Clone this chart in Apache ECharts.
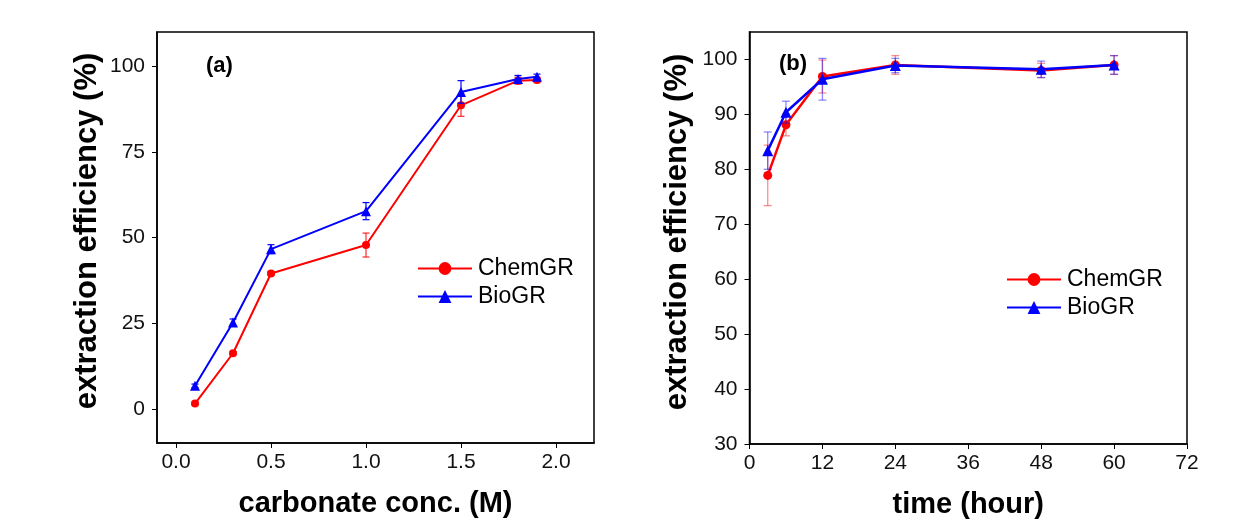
<!DOCTYPE html>
<html>
<head>
<meta charset="utf-8">
<script src="https://cdn.jsdelivr.net/npm/echarts@6/dist/echarts.min.js"></script>
<style>
  html, body { margin: 0; padding: 0; background: #fff; }
  #chart { width: 1238px; height: 529px; }
</style>
</head>
<body>
<div id="chart"></div>
<script>
// (a) extraction efficiency vs carbonate concentration
const concM = [0.1, 0.3, 0.5, 1.0, 1.5, 1.8, 1.9];
const chemConc = [1.5, 16.2, 39.5, 47.8, 88.6, 95.8, 96.0];
const chemConcErr = [0.4, 0.5, 0.6, 3.5, 3.2, 1.0, 0.8];
const bioConc = [6.7, 25.2, 46.6, 57.7, 92.5, 96.3, 96.9];
const bioConcErr = [0.5, 1.0, 1.3, 2.5, 3.3, 1.0, 0.8];
const concTicks = [0, 0.5, 1.0, 1.5, 2.0];
const effTicksA = [0, 25, 50, 75, 100];

// (b) extraction efficiency vs time
const timeH = [3, 6, 12, 24, 48, 60];
const chemTime = [78.9, 88.1, 96.9, 99.0, 98.0, 99.0];
const chemTimeErr = [5.5, 2.0, 3.0, 1.7, 1.3, 1.7];
const bioTime = [83.4, 90.4, 96.4, 98.9, 98.2, 99.0];
const bioTimeErr = [3.4, 2.0, 3.8, 1.3, 1.5, 1.7];
const timeTicks = [0, 12, 24, 36, 48, 60, 72];
const effTicksB = [30, 40, 50, 60, 70, 80, 90, 100];

const yTitle = 'extraction efficiency (%)';

const FONT = 'Liberation Sans, Arial, sans-serif';
const RED = '#ff0000';
const BLUE = '#0000ff';

function pairs(xs, ys) { return xs.map((x, i) => [x, ys[i]]); }
function errData(xs, ys, es) { return xs.map((x, i) => [x, ys[i] - es[i], ys[i] + es[i]]); }

function errorBars(color, width, cap) {
  return function (params, api) {
    const x = api.value(0);
    const lo = api.coord([x, api.value(1)]);
    const hi = api.coord([x, api.value(2)]);
    const style = { stroke: color, lineWidth: width };
    return {
      type: 'group',
      children: [
        { type: 'line', shape: { x1: hi[0], y1: hi[1], x2: lo[0], y2: lo[1] }, style },
        { type: 'line', shape: { x1: hi[0] - cap, y1: hi[1], x2: hi[0] + cap, y2: hi[1] }, style },
        { type: 'line', shape: { x1: lo[0] - cap, y1: lo[1], x2: lo[0] + cap, y2: lo[1] }, style }
      ]
    };
  };
}

function xAxisCfg(gridIndex, min, max, ticks, name, fmt) {
  return {
    type: 'value', gridIndex, min, max,
    name, nameLocation: 'middle', nameGap: 46,
    nameTextStyle: { fontFamily: FONT, fontWeight: 'bold', fontSize: 29, color: '#000' },
    axisLine: { show: true, onZero: false, lineStyle: { color: '#000', width: 1.5 } },
    axisTick: { show: true, inside: false, length: 5, customValues: ticks, lineStyle: { color: '#000', width: 1 } },
    axisLabel: { customValues: ticks, margin: 9, fontFamily: FONT, fontSize: 21, color: '#111', formatter: fmt },
    splitLine: { show: false }
  };
}

function yAxisCfg(gridIndex, min, max, ticks) {
  return {
    type: 'value', gridIndex, min, max,
    axisLine: { show: true, onZero: false, lineStyle: { color: '#000', width: 1.5 } },
    axisTick: { show: true, inside: false, length: 5, customValues: ticks, lineStyle: { color: '#000', width: 1 } },
    axisLabel: { customValues: ticks, margin: 12, fontFamily: FONT, fontSize: 21, color: '#111' },
    splitLine: { show: false }
  };
}

function legendCfg(left, top) {
  return {
    left, top, orient: 'vertical',
    data: ['ChemGR', 'BioGR'],
    itemWidth: 54, itemHeight: 16, itemGap: 5,
    selectedMode: false,
    textStyle: { fontFamily: FONT, fontSize: 23, lineHeight: 23, color: '#000', padding: [0, 0, 0, 1] }
  };
}

function yTitleText(x, y) {
  return {
    type: 'text', x, y, rotation: Math.PI / 2,
    style: { text: yTitle, font: 'bold 31px ' + FONT, fill: '#000', align: 'center', verticalAlign: 'middle' }
  };
}

const option = {
  backgroundColor: '#fff',
  animation: false,
  grid: [
    { left: 157, top: 32, width: 437, height: 411, show: true, borderColor: '#000', borderWidth: 1.5, backgroundColor: 'transparent' },
    { left: 749.5, top: 32, width: 437.5, height: 412, show: true, borderColor: '#000', borderWidth: 1.5, backgroundColor: 'transparent' }
  ],
  xAxis: [
    xAxisCfg(0, -0.1, 2.2, concTicks, 'carbonate conc. (M)', v => v.toFixed(1)),
    xAxisCfg(1, 0, 72, timeTicks, 'time (hour)', v => String(v))
  ],
  yAxis: [
    yAxisCfg(0, -10, 110, effTicksA),
    yAxisCfg(1, 30, 105, effTicksB)
  ],
  legend: [legendCfg(412, 252), legendCfg(1001, 263)],
  graphic: [
    yTitleText(87, 231),
    yTitleText(677, 232),
    { type: 'text', left: 206, top: 55, style: { text: '(a)', font: 'bold 22px ' + FONT, fill: '#000' } },
    { type: 'text', left: 779, top: 53, style: { text: '(b)', font: 'bold 22px ' + FONT, fill: '#000' } }
  ],
  series: [
    // panel (a)
    { type: 'custom', name: 'errChemA', xAxisIndex: 0, yAxisIndex: 0, renderItem: errorBars(RED, 1, 3.5),
      data: errData(concM, chemConc, chemConcErr), encode: { x: 0, y: [1, 2] }, z: 3 },
    { type: 'line', name: 'ChemGR', xAxisIndex: 0, yAxisIndex: 0, data: pairs(concM, chemConc),
      symbol: 'circle', symbolSize: 8, color: RED, lineStyle: { color: RED, width: 2 }, itemStyle: { color: RED }, z: 4 },
    { type: 'custom', name: 'errBioA', xAxisIndex: 0, yAxisIndex: 0, renderItem: errorBars(BLUE, 1.2, 3.5),
      data: errData(concM, bioConc, bioConcErr), encode: { x: 0, y: [1, 2] }, z: 5 },
    { type: 'line', name: 'BioGR', xAxisIndex: 0, yAxisIndex: 0, data: pairs(concM, bioConc),
      symbol: 'triangle', symbolSize: 10, color: BLUE, lineStyle: { color: BLUE, width: 2 }, itemStyle: { color: BLUE }, z: 6 },
    // panel (b)
    { type: 'custom', name: 'errChemB', xAxisIndex: 1, yAxisIndex: 1, renderItem: errorBars('rgba(255,0,0,0.45)', 1.3, 4),
      data: errData(timeH, chemTime, chemTimeErr), encode: { x: 0, y: [1, 2] }, z: 3 },
    { type: 'line', name: 'ChemGR', xAxisIndex: 1, yAxisIndex: 1, data: pairs(timeH, chemTime),
      symbol: 'circle', symbolSize: 9, color: RED, lineStyle: { color: RED, width: 2.5 }, itemStyle: { color: RED }, z: 4 },
    { type: 'custom', name: 'errBioB', xAxisIndex: 1, yAxisIndex: 1, renderItem: errorBars('rgba(0,0,255,0.45)', 1.3, 4),
      data: errData(timeH, bioTime, bioTimeErr), encode: { x: 0, y: [1, 2] }, z: 5 },
    { type: 'line', name: 'BioGR', xAxisIndex: 1, yAxisIndex: 1, data: pairs(timeH, bioTime),
      symbol: 'triangle', symbolSize: 11, color: BLUE, lineStyle: { color: BLUE, width: 2.5 }, itemStyle: { color: BLUE }, z: 6 }
  ]
};

const chart = echarts.init(document.getElementById('chart'), null, { renderer: 'canvas' });
chart.setOption(option);
</script>
</body>
</html>
